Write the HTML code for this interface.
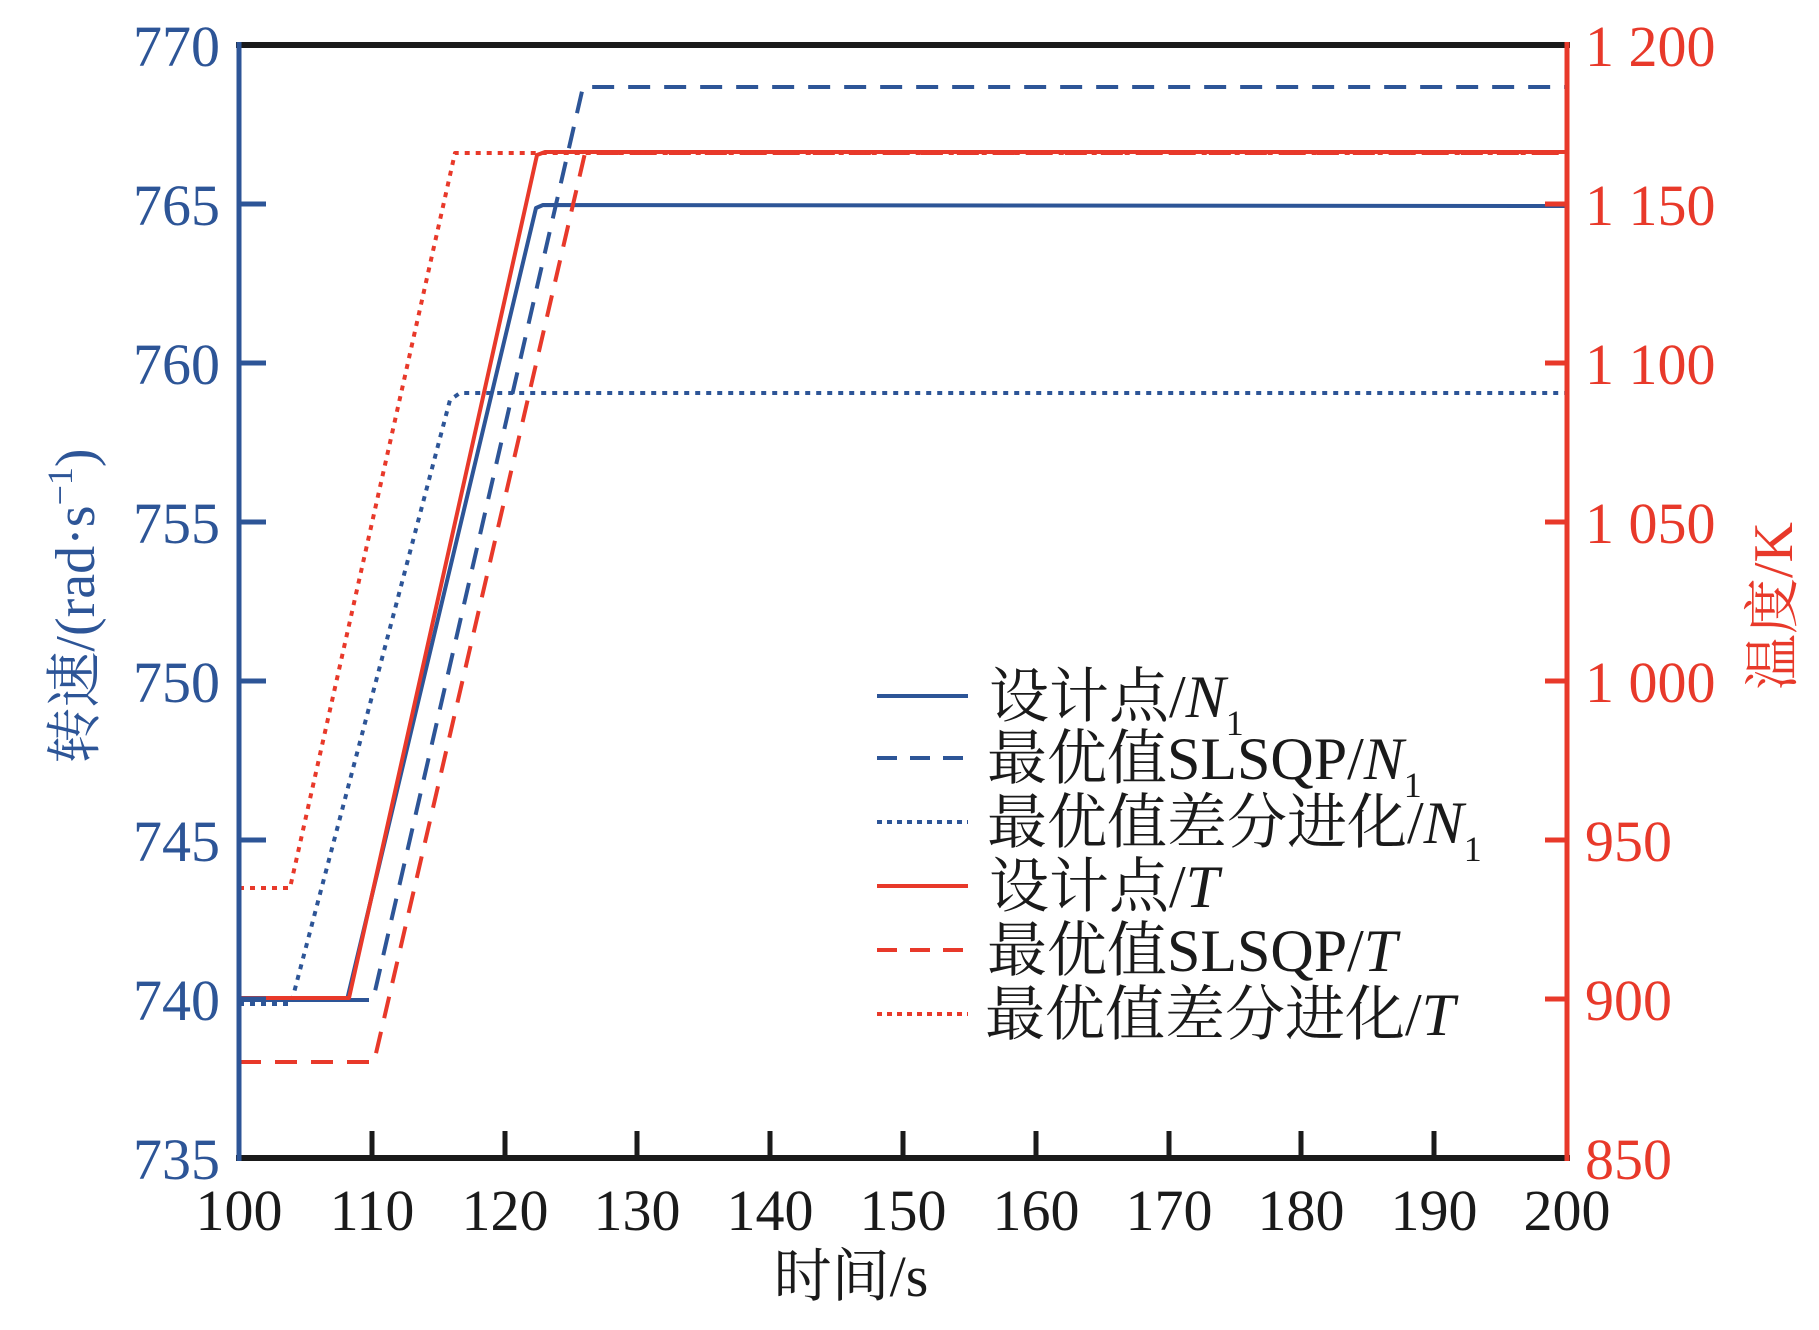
<!DOCTYPE html>
<html><head><meta charset="utf-8"><style>
html,body{margin:0;padding:0;background:#fff;}
svg{display:block;}
text{font-family:"Liberation Serif","Noto Serif CJK SC",serif;}
</style></head><body>
<svg width="1819" height="1330" viewBox="0 0 1819 1330" xmlns="http://www.w3.org/2000/svg">
<g fill="none" stroke-linejoin="round">
<polyline stroke="#2d5597" stroke-width="4" points="239,1000 363,1000"/>
<polyline stroke="#2d5597" stroke-width="4" points="239,1000 347,1000 536,208 543,205 1567,206"/>
<polyline stroke="#2d5597" stroke-width="4" stroke-dasharray="22,14" points="239,1000 373,1000 583,87 1567,87"/>
<polyline stroke="#2d5597" stroke-width="4" stroke-dasharray="5,6" points="239,1004 291,1004 450,400 460,393 480,393 1567,393"/>
<polyline stroke="#e8392a" stroke-width="4" points="239,998 349,998 537,155 545,152 1567,152"/>
<polyline stroke="#e8392a" stroke-width="4" stroke-dasharray="22,14" points="239,1062 374,1062 585,153 1567,153"/>
<polyline stroke="#e8392a" stroke-width="4" stroke-dasharray="5,6" points="239,888 290,888 455,153 1567,153"/>
</g>
<line x1="236" y1="45" x2="1570" y2="45" stroke="#1a1a1a" stroke-width="6"/>
<line x1="236" y1="1158" x2="1570" y2="1158" stroke="#1a1a1a" stroke-width="6"/>
<line x1="239" y1="42" x2="239" y2="1161" stroke="#2d5597" stroke-width="5"/>
<line x1="1567" y1="42" x2="1567" y2="1161" stroke="#e8392a" stroke-width="5"/>
<g stroke="#2d5597" stroke-width="5">
<line x1="239" y1="204" x2="266" y2="204"/><line x1="239" y1="363" x2="266" y2="363"/>
<line x1="239" y1="522" x2="266" y2="522"/><line x1="239" y1="681" x2="266" y2="681"/>
<line x1="239" y1="840" x2="266" y2="840"/><line x1="239" y1="999" x2="266" y2="999"/>
</g>
<g stroke="#e8392a" stroke-width="5">
<line x1="1545" y1="204" x2="1567" y2="204"/><line x1="1545" y1="363" x2="1567" y2="363"/>
<line x1="1545" y1="522" x2="1567" y2="522"/><line x1="1545" y1="681" x2="1567" y2="681"/>
<line x1="1545" y1="840" x2="1567" y2="840"/><line x1="1545" y1="999" x2="1567" y2="999"/>
</g>
<g stroke="#1a1a1a" stroke-width="5">
<line x1="372" y1="1158" x2="372" y2="1131"/><line x1="505" y1="1158" x2="505" y2="1131"/>
<line x1="637" y1="1158" x2="637" y2="1131"/><line x1="770" y1="1158" x2="770" y2="1131"/>
<line x1="903" y1="1158" x2="903" y2="1131"/><line x1="1036" y1="1158" x2="1036" y2="1131"/>
<line x1="1169" y1="1158" x2="1169" y2="1131"/><line x1="1301" y1="1158" x2="1301" y2="1131"/>
<line x1="1434" y1="1158" x2="1434" y2="1131"/>
</g>
<g fill="#2d5597" font-size="58" text-anchor="end">
<text x="220" y="66">770</text><text x="220" y="225">765</text><text x="220" y="384">760</text>
<text x="220" y="543">755</text><text x="220" y="702">750</text><text x="220" y="861">745</text>
<text x="220" y="1020">740</text><text x="220" y="1179">735</text>
</g>
<g fill="#e8392a" font-size="58" text-anchor="start">
<text x="1585" y="66">1 200</text><text x="1585" y="225">1 150</text><text x="1585" y="384">1 100</text>
<text x="1585" y="543">1 050</text><text x="1585" y="702">1 000</text><text x="1585" y="861">950</text>
<text x="1585" y="1020">900</text><text x="1585" y="1179">850</text>
</g>
<g fill="#1a1a1a" font-size="58" text-anchor="middle">
<text x="239" y="1230">100</text><text x="372" y="1230">110</text><text x="505" y="1230">120</text>
<text x="637" y="1230">130</text><text x="770" y="1230">140</text><text x="903" y="1230">150</text>
<text x="1036" y="1230">160</text><text x="1169" y="1230">170</text><text x="1301" y="1230">180</text>
<text x="1434" y="1230">190</text><text x="1567" y="1230">200</text>
<text x="851" y="1296">时间/s</text>
</g>
<text transform="translate(94,606) rotate(-90)" fill="#2d5597" font-size="56" text-anchor="middle">转速/(rad·s<tspan dy="-22" font-size="36">−1</tspan><tspan dy="22">)</tspan></text>
<text transform="translate(1792,606) rotate(-90)" fill="#e8392a" font-size="56" text-anchor="middle">温度/K</text>
<g stroke-width="4">
<line x1="877" y1="696" x2="968" y2="696" stroke="#2d5597"/>
<line x1="877" y1="758" x2="968" y2="758" stroke="#2d5597" stroke-dasharray="20,13"/>
<line x1="877" y1="822" x2="968" y2="822" stroke="#2d5597" stroke-dasharray="5,5"/>
<line x1="877" y1="886" x2="968" y2="886" stroke="#e8392a"/>
<line x1="877" y1="950" x2="968" y2="950" stroke="#e8392a" stroke-dasharray="20,13"/>
<line x1="877" y1="1014" x2="968" y2="1014" stroke="#e8392a" stroke-dasharray="5,5"/>
</g>
<g fill="#1a1a1a" font-size="60">
<text x="989" y="717">设计点/<tspan font-style="italic">N</tspan><tspan font-size="36" dy="18">1</tspan></text>
<text x="987" y="779">最优值SLSQP/<tspan font-style="italic">N</tspan><tspan font-size="36" dy="18">1</tspan></text>
<text x="987" y="843">最优值差分进化/<tspan font-style="italic">N</tspan><tspan font-size="36" dy="18">1</tspan></text>
<text x="989" y="907">设计点/<tspan font-style="italic">T</tspan></text>
<text x="987" y="971">最优值SLSQP/<tspan font-style="italic">T</tspan></text>
<text x="985" y="1035">最优值差分进化/<tspan font-style="italic">T</tspan></text>
</g>
</svg>
</body></html>
